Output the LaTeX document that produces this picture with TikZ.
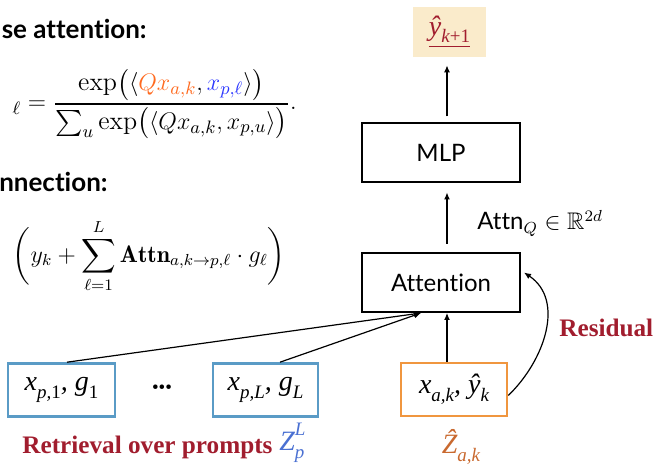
\documentclass[tikz,border=0pt]{standalone}
\usepackage{amsmath,amssymb}
\usepackage{fontspec}
\newfontfamily\sansf{Lato}[Ligatures=NoCommon]
\newfontfamily\timf{Liberation Serif}
\usetikzlibrary{arrows.meta}
\definecolor{boxblue}{HTML}{5A9BC6}
\definecolor{boxorange}{HTML}{F0963F}
\definecolor{darkred}{HTML}{A11D2E}
\definecolor{zorange}{HTML}{C9692F}
\definecolor{zblue}{HTML}{4A70D2}
\definecolor{beige}{HTML}{FAEBCB}
\definecolor{eqorange}{HTML}{FF6A1F}
\definecolor{eqblue}{HTML}{2B36FF}
\newcommand{\sbs}[1]{\raisebox{-0.28em}{\fontsize{9.5}{10}\selectfont #1}}
\newcommand{\sps}[1]{\raisebox{0.55em}{\fontsize{9.5}{10}\selectfont #1}}
\begin{document}
\begin{tikzpicture}[x=0.5pt,y=-0.5pt,
  arr/.style={-{Latex[length=3.5pt,width=3pt]}, line width=0.6pt},
  blk/.style={draw, line width=1pt, minimum width=79pt, minimum height=29.5pt, inner sep=0pt, font=\sansf\fontsize{12}{14}\selectfont},
  inbox/.style={draw, line width=1.3pt, minimum height=26.5pt, inner sep=0pt, font=\timf\itshape\fontsize{14}{16}\selectfont},
  hdr/.style={font=\sansf\bfseries\fontsize{13}{15}\selectfont, inner sep=0pt},
  redlbl/.style={font=\timf\bfseries\fontsize{12.6}{14}\selectfont, text=darkred, inner sep=0pt}]

\useasboundingbox (0,0) rectangle (653,464);

% left: formulas
\node[hdr, anchor=base east] (h1) at (147,39) {se attention:};
\node[inner sep=0pt, anchor=east, font=\fontsize{13}{16}\selectfont] (eq1) at (297,104)
  {${}_{\ell} = \displaystyle\frac{\exp\bigl(\langle {\color{eqorange}Qx_{a,k}}, {\color{eqblue}x_{p,\ell}}\rangle\bigr)}{\sum_u \exp\bigl(\langle Qx_{a,k}, x_{p,u}\rangle\bigr)}.$};
\node[hdr, anchor=base east] (h2) at (108,192) {nnection:};
\node[inner sep=0pt, anchor=east, font=\fontsize{12}{14}\selectfont] (eq2) at (286,256)
  {$\displaystyle\biggl(y_k + \sum_{\ell=1}^{L}\mathbf{Attn}_{a,k\to p,\ell}\cdot g_\ell\biggr)$};

% right: network
\node[fill=beige, minimum width=36.5pt, minimum height=25pt, inner sep=0pt, text=darkred,
      font=\timf\itshape\fontsize{14}{16}\selectfont] (yh) at (449.5,32) {\underline{ŷ\sbs{k\upshape +1}}};
\node[blk] (mlp) at (441,153) {MLP};
\node[blk] (att) at (441,282.5) {Attention};
\node[inbox, draw=boxorange, minimum width=53pt] (xak) at (454,389.5) {x\sbs{a,k}, ŷ\sbs{k}};

% bottom left boxes
\node[inbox, draw=boxblue, minimum width=53.5pt] (xp1) at (61.5,390) {x\sbs{p,\upshape 1}, g\sbs{\upshape 1}};
\node[inbox, draw=boxblue, minimum width=52.5pt] (xpL) at (265.5,390) {x\sbs{p,L}, g\sbs{L}};
\node[inner sep=0pt, font=\timf\fontsize{9.5}{10}\selectfont] (dots) at (162,389) {\textbullet\textbullet\textbullet};

% labels
\node[font=\sansf\fontsize{12}{14}\selectfont, anchor=base west, inner sep=0pt] (al) at (477,230) {Attn$_{Q}\in\mathbb{R}^{2d}$};
\node[redlbl, anchor=west] (res) at (559,328) {Residual};
\node[redlbl, anchor=base west] (ret) at (22,453) {Retrieval over prompts};
\node[anchor=base west, inner sep=0pt, text=zblue, font=\timf\itshape\fontsize{14}{16}\selectfont] (zp) at (279,451)
  {Z\makebox[0pt][l]{\sps{L}}\sbs{p}};
\node[text=zorange, inner sep=0pt, font=\timf\itshape\fontsize{14}{16}\selectfont] (zh) at (461,447) {\^{Z}\sbs{a,k}};

% connectors
\coordinate (ax) at (447,0);
\draw[arr] (xak.north -| ax) -- (att.south -| ax);
\draw[arr, shorten <=4pt, shorten >=4.5pt] (att.north -| ax) -- (mlp.south -| ax);
\draw[arr, shorten <=3pt, shorten >=4pt] (mlp.north -| ax) -- (yh.south -| ax);
\coordinate (conv) at ([xshift=-10pt]att.south);
\draw[arr] ([xshift=2.75pt]xp1.north) -- (conv);
\draw[arr] ([xshift=7.25pt]xpL.north) -- (conv);
\draw[arr] ([yshift=-3pt]xak.east) .. controls (545,360) and (565,300) .. ([xshift=1.5pt,yshift=5pt]att.east);
\end{tikzpicture}
\end{document}
